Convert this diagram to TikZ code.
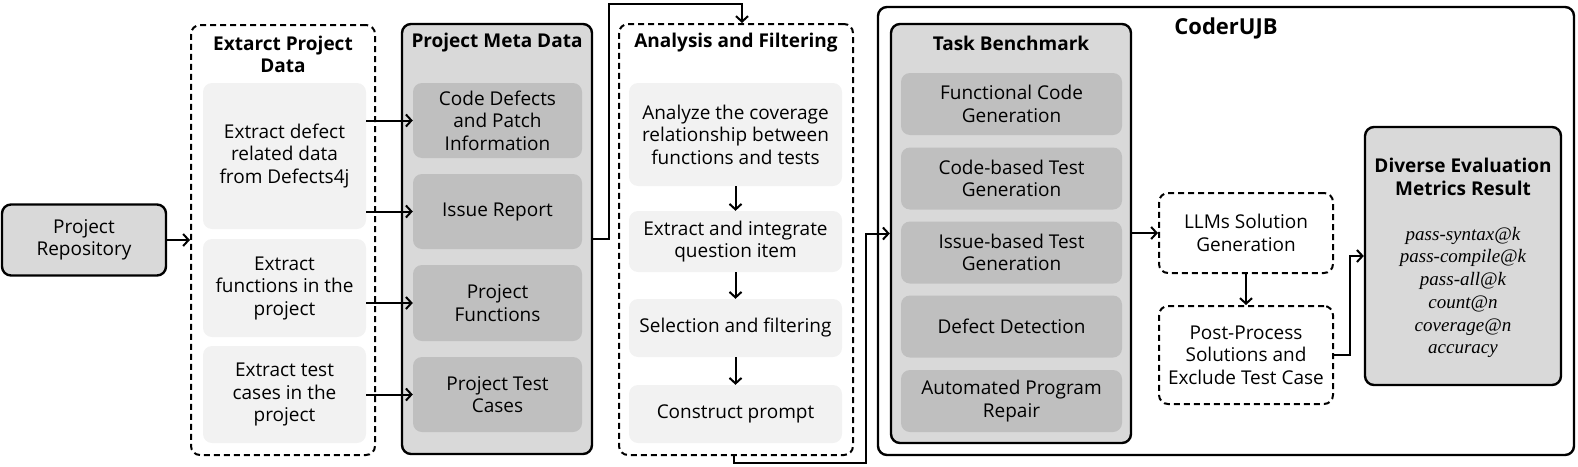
\documentclass[tikz,border=0pt]{standalone}
\usepackage{fontspec}
\setmainfont{Open Sans}
\newfontfamily\metricfont{Liberation Serif}
\usetikzlibrary{arrows.meta,calc}
\definecolor{lightbox}{HTML}{F2F2F2}
\definecolor{midbox}{HTML}{D9D9D9}
\definecolor{darkbox}{HTML}{BFBFBF}

\begin{document}
\begin{tikzpicture}[x=1pt,y=-1pt]
            \tikzset{
            cuj text/.style={align=center,font=\fontsize{19}{22.5}\selectfont},
            cuj title/.style={align=center,font=\fontsize{19}{22.5}\selectfont\bfseries},
            cuj frame/.style={draw,line width=2.4pt,rounded corners=9pt,inner sep=0},
            cuj dashed/.style={draw,line width=2pt,dash pattern=on 6pt off 4pt,rounded corners=9pt,inner sep=0},
            cuj light/.style={cuj text,fill=lightbox,rounded corners=9pt,inner sep=0},
            cuj dark/.style={cuj text,fill=darkbox,rounded corners=9pt,inner sep=0},
            cuj arrow/.style={line width=2pt,-{Straight Barb[length=5.5pt,width=12pt,line width=2pt]}}
            }
            \useasboundingbox (0,0) rectangle (1578,466);
            \coordinate (toprail) at (0,4);
            \coordinate (botrail) at (0,463);

            % outer frames
            \node[cuj frame,fill=white,minimum width=696,minimum height=448] (coder) at (1226,231) {};
            \node[cuj frame,fill=midbox,cuj text,minimum width=164,minimum height=71] (repo) at (84,240) {Project\\Repository};
            \node[cuj dashed,minimum width=184,minimum height=430] (exgrp) at (283,240) {};
            \node[cuj frame,fill=midbox,minimum width=190,minimum height=430] (metagrp) at (497,239) {};
            \node[cuj dashed,minimum width=234,minimum height=431] (angrp) at (736,239.5) {};
            \node[cuj frame,fill=midbox,minimum width=240,minimum height=419] (taskgrp) at (1011,233.5) {};

            % titles
            \node[cuj title] (extitle) at (283,54.5) {Extarct Project\\Data};
            \node[cuj title] (metatitle) at (497,43) {Project Meta Data};
            \node[cuj title] (antitle) at (736,43) {Analysis and Filtering};
            \node[cuj title] (tasktitle) at (1011,43) {Task Benchmark};
            \node[cuj title,font=\fontsize{22}{26}\selectfont\bfseries] (codertitle) at (1226,28) {CoderUJB};

            % extract project data
            \node[cuj light,minimum width=163,minimum height=146] (ex1) at (284.5,156) {Extract defect\\related data\\from Defects4j};
            \node[cuj light,minimum width=163,minimum height=98] (ex2) at (284.5,288) {Extract\\functions in the\\project};
            \node[cuj light,minimum width=163,minimum height=97] (ex3) at (284.5,394.5) {Extract test\\cases in the\\project};

            % project meta data
            \node[cuj dark,minimum width=169,minimum height=75] (md1) at (497.5,120.5) {Code Defects\\and Patch\\Information};
            \node[cuj dark,minimum width=169,minimum height=75] (md2) at (497.5,211.5) {Issue Report};
            \node[cuj dark,minimum width=169,minimum height=76] (md3) at (497.5,303) {Project\\Functions};
            \node[cuj dark,minimum width=169,minimum height=75] (md4) at (497.5,394.5) {Project Test\\Cases};

            % analysis and filtering
            \node[cuj light,minimum width=213,minimum height=103] (an1) at (735.5,134.5) {Analyze the coverage\\relationship between\\functions and tests};
            \node[cuj light,minimum width=213,minimum height=61] (an2) at (735.5,241.5) {Extract and integrate\\question item};
            \node[cuj light,minimum width=213,minimum height=58] (an3) at (735.5,328) {Selection and filtering};
            \node[cuj light,minimum width=213,minimum height=58] (an4) at (735.5,414) {Construct prompt};

            % task benchmark
            \node[cuj dark,minimum width=221,minimum height=62] (tb1) at (1011.5,104) {Functional Code\\Generation};
            \node[cuj dark,minimum width=221,minimum height=62] (tb2) at (1011.5,178.5) {Code-based Test\\Generation};
            \node[cuj dark,minimum width=221,minimum height=62] (tb3) at (1011.5,252.5) {Issue-based Test\\Generation};
            \node[cuj dark,minimum width=221,minimum height=62] (tb4) at (1011.5,326.5) {Defect Detection};
            \node[cuj dark,minimum width=221,minimum height=62] (tb5) at (1011.5,401) {Automated Program\\Repair};

            % solutions and results
            \node[cuj dashed,cuj text,minimum width=174,minimum height=80] (llm) at (1246,233) {LLMs Solution\\Generation};
            \node[cuj dashed,cuj text,minimum width=174,minimum height=98] (post) at (1246,355) {Post-Process\\Solutions and\\Exclude Test Case};
            \node[cuj frame,fill=midbox,minimum width=196,minimum height=258] (metrics) at (1463,256) {};
            \node[cuj title] (mtitle) at (1463,177) {Diverse Evaluation\\Metrics Result};
            \node[align=center,font=\fontsize{19}{22.7}\selectfont\metricfont\itshape] (mlist) at (1463,292.5) {pass-syntax@k\\pass-compile@k\\pass-all@k\\count@n\\coverage@n\\accuracy};

            \path[cuj arrow]
            (repo.east) edge (exgrp.west)
            (ex1.east |- md1.west) edge (md1.west)
            (ex1.east |- md2.west) edge (md2.west)
            (ex2.east |- md3.west) edge (md3.west)
            (ex3.east |- md4.west) edge (md4.west)
            (an1.south) edge (an2.north)
            (an2.south) edge (an3.north)
            (an3.south) edge (an4.north)
            (taskgrp.east |- llm.west) edge (llm.west)
            (llm.south) edge (post.north)
            ;

            \draw[cuj arrow] (metagrp.east) -- ++(16,0) |- ([xshift=6pt]angrp.north |- toprail) -- ([xshift=6pt]angrp.north);
            \draw[cuj arrow] ([xshift=-2pt]angrp.south) -- ([xshift=-2pt]angrp.south |- botrail) -| ([xshift=-24pt]taskgrp.west) -- (taskgrp.west);
            \draw[cuj arrow] (post.east) -- ++(16,0) |- (metrics.west);
        \end{tikzpicture}
\end{document}
